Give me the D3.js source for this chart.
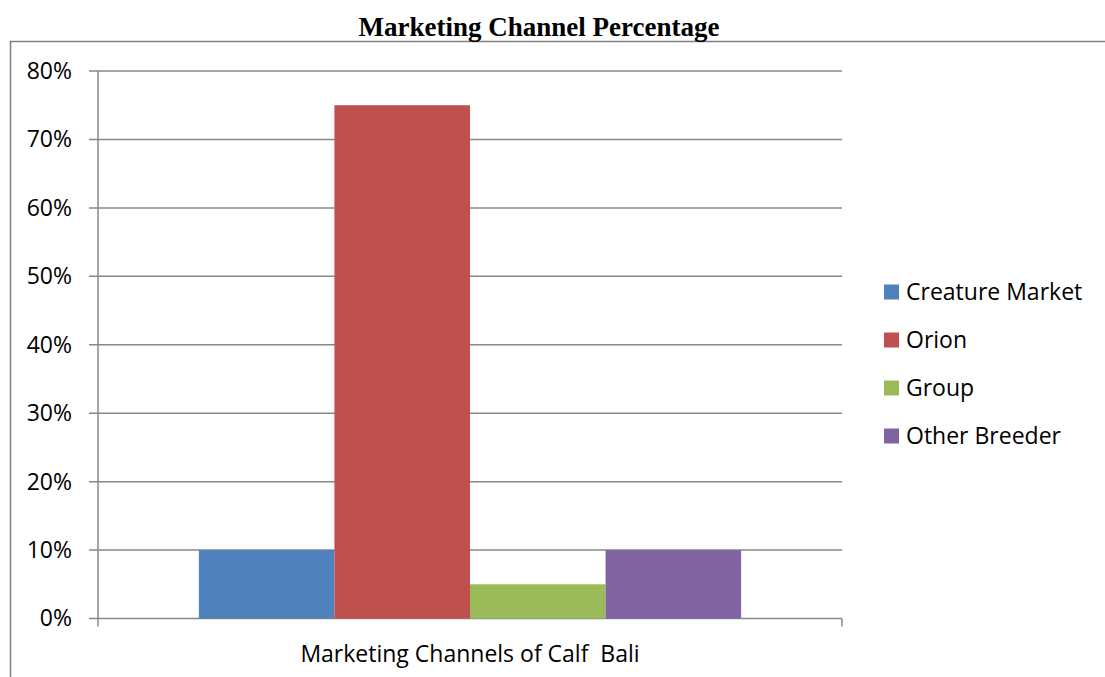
<!doctype html>
<html lang="en">
  <head>
    <meta charset="utf-8">
    <title>Marketing Channel Percentage</title>
    <script src="https://d3js.org/d3.v7.min.js"></script>
    <style>
      body { margin: 0; background: #fff; }
      svg { display: block; }
    </style>
  </head>
  <body>
    <div id="root"></div>
  <script>
    // data
    const category = 'Marketing Channels of Calf  Bali';
    const channels = ['Creature Market', 'Orion', 'Group', 'Other Breeder'];
    const values = [0.10, 0.75, 0.05, 0.10];
    const colors = ['#4f81bd', '#c0504d', '#9bbb59', '#8064a2'];
    const yTicks = [0, 0.1, 0.2, 0.3, 0.4, 0.5, 0.6, 0.7, 0.8];

    const width = 1105, height = 677;
    const plot = { left: 98, right: 842, top: 71, bottom: 618.5 };
    const font = '"Open Sans", sans-serif';

    const svg = d3.select('#root').append('svg')
      .attr('width', width).attr('height', height);

    // outer frame (only top and left visible)
    svg.append('path')
      .attr('d', `M10.5,${height} V41.5 H${width}`)
      .attr('fill', 'none').attr('stroke', '#7f7f7f').attr('stroke-width', 1.5);

    svg.append('text')
      .attr('x', 539).attr('y', 36)
      .attr('text-anchor', 'middle')
      .style('font-family', '"Liberation Serif", "Times New Roman", serif')
      .style('font-weight', 'bold').style('font-size', '27px')
      .text('Marketing Channel Percentage');

    //scales
    const x0 = d3.scaleBand().domain([category])
      .range([plot.left, plot.right]).paddingInner(0).paddingOuter(0.186);
    const x1 = d3.scaleBand().domain(channels)
      .range([0, x0.bandwidth()]);
    const y = d3.scaleLinear().domain([0, 0.8])
      .range([plot.bottom, plot.top]);

    // gridlines
    svg.append('g').selectAll('line').data(yTicks).enter().append('line')
      .attr('x1', plot.left - 9).attr('x2', plot.right)
      .attr('y1', d => y(d)).attr('y2', d => y(d))
      .attr('stroke', '#888').attr('stroke-width', 1.5);

    // bars
    svg.append('g').selectAll('rect').data(channels).enter().append('rect')
      .attr('x', d => x0(category) + x1(d))
      .attr('width', x1.bandwidth())
      .attr('y', (d, i) => y(values[i]))
      .attr('height', (d, i) => y(0) - y(values[i]))
      .attr('fill', (d, i) => colors[i]);

    // axes
    const yAxis = d3.axisLeft(y).tickValues(yTicks).tickFormat(d3.format('.0%'))
      .tickSize(0).tickPadding(26);
    svg.append('g')
      .attr('transform', `translate(${plot.left},0)`)
      .call(yAxis)
      .call(g => g.select('.domain').remove())
      .call(g => g.selectAll('text')
        .style('font-family', font).style('font-size', '23px')
        .attr('fill', '#000'));

    svg.append('line')
      .attr('x1', plot.left).attr('x2', plot.left)
      .attr('y1', plot.top).attr('y2', plot.bottom + 8)
      .attr('stroke', '#888').attr('stroke-width', 1.5);
    svg.append('line')
      .attr('x1', plot.right).attr('x2', plot.right)
      .attr('y1', plot.bottom).attr('y2', plot.bottom + 8)
      .attr('stroke', '#888').attr('stroke-width', 1.5);

    svg.append('text')
      .attr('x', 470).attr('y', 662)
      .attr('text-anchor', 'middle')
      .style('font-family', font).style('font-size', '23px')
      .style('white-space', 'pre')
      .text(category);

    // legend
    const legend = svg.append('g').selectAll('g').data(channels).enter().append('g')
      .attr('transform', (d, i) => `translate(884,${292 + i * 48})`);
    legend.append('rect')
      .attr('x', 0).attr('y', -7.5).attr('width', 15).attr('height', 15)
      .attr('fill', (d, i) => colors[i]);
    legend.append('text')
      .attr('x', 22).attr('y', 0).attr('dy', '0.36em')
      .style('font-family', font).style('font-size', '23px')
      .text(d => d);
  </script>
  </body>
</html>
